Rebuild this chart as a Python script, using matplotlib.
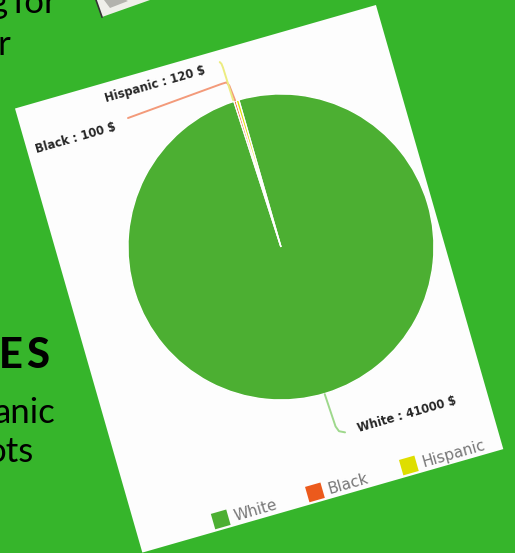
"""
Rotated Highcharts-style pie card on a green slide background.
"""
import matplotlib
matplotlib.use("Agg")
import matplotlib.pyplot as plt
from matplotlib.patches import Rectangle, Polygon
from matplotlib.transforms import Affine2D

# ---- data ----
groups = ["White", "Black", "Hispanic"]
amounts = [41000, 100, 120]
colors = ["#4caf32", "#ec5a1c", "#dede00"]
conn_colors = ["#9ed88c", "#f39a7a", "#ecec80"]

W_PX, H_PX = 515, 553
BG = "#36b52b"

fig = plt.figure(figsize=(W_PX / 100, H_PX / 100), dpi=100, facecolor=BG)
ax = fig.add_axes([0, 0, 1, 1])
ax.set_facecolor(BG)

# card frame: local (u, v) -> image pixels, card tilted 16 deg
ANG = 16
card = Affine2D().rotate_deg(-ANG).translate(15, 108.5)
tr = card + ax.transData

def P(u, v):
    return card.transform((u, v))

# white card
ax.add_patch(Rectangle((0, 0), 375.5, 462, transform=tr,
                       facecolor="#fdfdfd", edgecolor="none", zorder=1))

# pie, starting at 12 o'clock and running clockwise (local v points down)
wedges, _ = ax.pie(amounts, colors=colors, startangle=-90, counterclock=True,
                   center=(217.5, 206.4), radius=153,
                   wedgeprops=dict(edgecolor="white", linewidth=1.0))
for w in wedges:
    w.set_transform(tr)
    w.set_zorder(2)

# connectors (local coords)
conn_paths = [
    [(219.0, 360), (220.5, 394), (222.5, 399.5), (228, 402.3)],
    [(213.8, 53), (212.3, 37), (210.5, 33.2), (205, 33.3), (106, 40.3)],
    [(212.0, 52), (211.2, 18), (210.8, 14), (209.6, 11.8)],
]
for pts, c in zip(conn_paths, conn_colors):
    xs = [p[0] for p in pts]
    ys = [p[1] for p in pts]
    ax.plot(xs, ys, color=c, lw=1.4, transform=tr, zorder=3,
            solid_capstyle="round", solid_joinstyle="round")

# data labels
label_pos = [(292.3, 402.7), (50.5, 45.2), (141.4, 15.0)]
for g, a, (u, v) in zip(groups, amounts, label_pos):
    x, y = P(u, v)
    ax.text(x, y, f"{g} : {a} $", rotation=ANG, rotation_mode="anchor",
            ha="center", va="center", fontsize=8.3, fontweight="bold",
            color="#262626", zorder=4)

# legend
leg_u = [84.5, 182.5, 280.2]
leg_v = 451.7
sq = 16
for g, c, u in zip(groups, colors, leg_u):
    ax.add_patch(Rectangle((u - sq / 2, leg_v - sq / 2), sq, sq, transform=tr,
                           facecolor=c, edgecolor="none", zorder=3))
    x, y = P(u + sq / 2 + 6, leg_v + 1)
    ax.text(x, y, g, rotation=ANG, rotation_mode="anchor", ha="left",
            va="center", fontsize=11, color="#777777", zorder=4)

# slide text around the card
ax.text(8, 13, "g", fontfamily="Lato", fontsize=25, ha="right", va="baseline", color="black")
ax.text(12, 13, "for", fontfamily="Lato", fontsize=25, ha="left", va="baseline", color="black")
ax.text(-2, 55, "r", fontfamily="Lato", fontsize=25, ha="left", va="baseline", color="black")
ax.text(56, 423, "anic", fontfamily="Lato", fontsize=25, ha="right", va="baseline", color="black")
ax.text(34, 462, "ots", fontfamily="Lato", fontsize=25, ha="right", va="baseline", color="black")
big = dict(fontfamily="Lato", fontweight="black", fontsize=30,
           va="baseline", color="black")
ax.text(-1, 368, "E", ha="left", **big)
ax.text(49, 368, "S", ha="right", **big)

# corner of another picture peeking in at the top
ax.add_patch(Polygon([(96, 0), (102, 17), (150, 0)], closed=True,
                     facecolor="#efefe9", edgecolor="none", zorder=1))
ax.plot([96, 102], [0, 17], color="#333333", lw=1.2, zorder=2)
ax.add_patch(Polygon([(104, 0), (110, 8), (128, 1), (126, 0)], closed=True,
                     facecolor="#9a9a94", edgecolor="none", alpha=0.7, zorder=2))

ax.set_xlim(0, W_PX)
ax.set_ylim(H_PX, 0)
ax.set_aspect("auto")
ax.axis("off")

fig.savefig("out.png", dpi=100, facecolor=BG)
